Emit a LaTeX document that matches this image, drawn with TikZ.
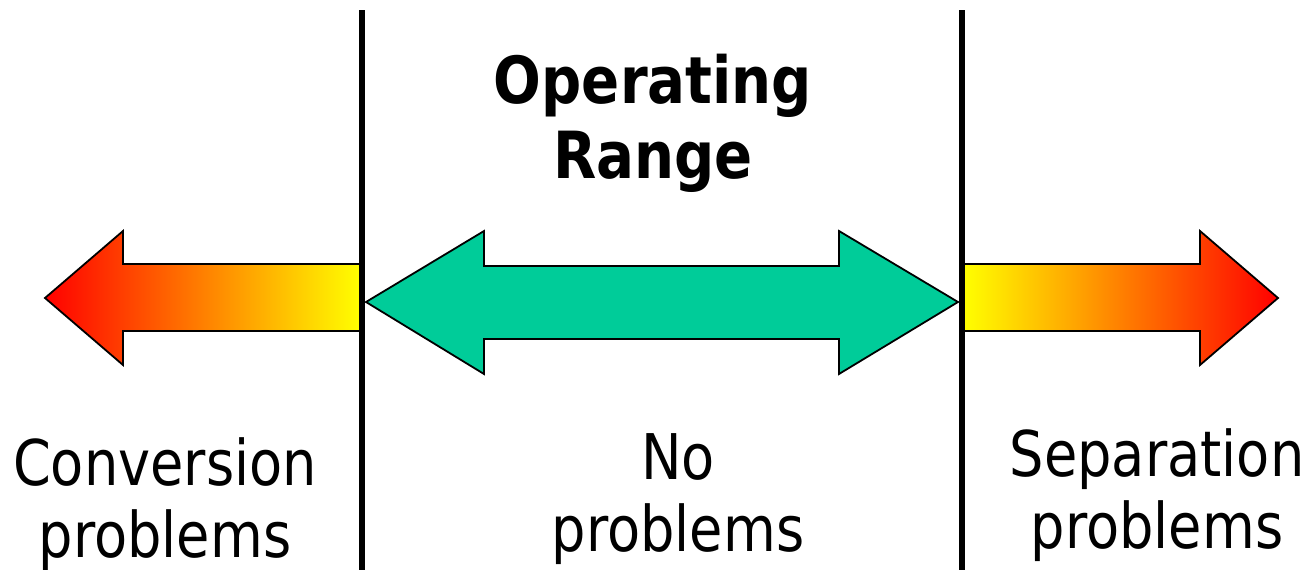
\documentclass[tikz,border=0pt]{standalone}
\usepackage{fontspec}
\setmainfont{DejaVu Sans}
\newfontfamily\labfont[FakeStretch=0.86]{DejaVu Sans}
\newfontfamily\titfont[FakeStretch=0.865]{DejaVu Sans Bold}
\definecolor{rangegreen}{RGB}{0,204,153}
\definecolor{warmmid}{RGB}{255,150,0}
\begin{document}
\begin{tikzpicture}[x=1pt,y=-1pt,
  outline/.style={draw=black, line width=1.8pt, line join=miter},
  warmleft/.style={outline, left color=red, middle color=warmmid, right color=yellow},
  warmright/.style={outline, left color=yellow, middle color=warmmid, right color=red},
  okarrow/.style={outline, fill=rangegreen},
  divider/.style={line width=6pt, black},
  lab/.style={align=center, anchor=base, font=\labfont\fontsize{63}{72}\selectfont, inner sep=0pt},
  tit/.style={align=center, anchor=base, font=\titfont\fontsize{65}{75}\selectfont, inner sep=0pt}]
\useasboundingbox (0,0) rectangle (1312,570);
% left arrow
\path[warmleft] (45,298) -- (123,231) -- (123,264) -- (360,264) -- (360,331) -- (123,331) -- (123,365) -- cycle;
% right arrow
\path[warmright] (1278,298) -- (1200,231) -- (1200,264) -- (964,264) -- (964,331) -- (1200,331) -- (1200,365) -- cycle;
% double arrow
\path[okarrow] (366,302) -- (484,231) -- (484,266) -- (839,266) -- (839,231) -- (958,302) -- (839,374) -- (839,339) -- (484,339) -- (484,374) -- cycle;
% dividers
\coordinate (d1t) at (362,10); \coordinate (d1b) at (362,570);
\coordinate (d2t) at (962,10); \coordinate (d2b) at (962,570);
\draw[divider] (d1t) -- (d1b);
\draw[divider] (d2t) -- (d2b);
% texts (anchored at the baseline of the last line)
\node[tit] (title) at (653,178) {Operating\\Range};
\node[lab] (conv) at (165,557) {Conversion\\problems};
\node[lab] (none) at (678,551) {No\\problems};
\node[lab] (sep) at (1157,548) {Separation\\problems};
\end{tikzpicture}
\end{document}
